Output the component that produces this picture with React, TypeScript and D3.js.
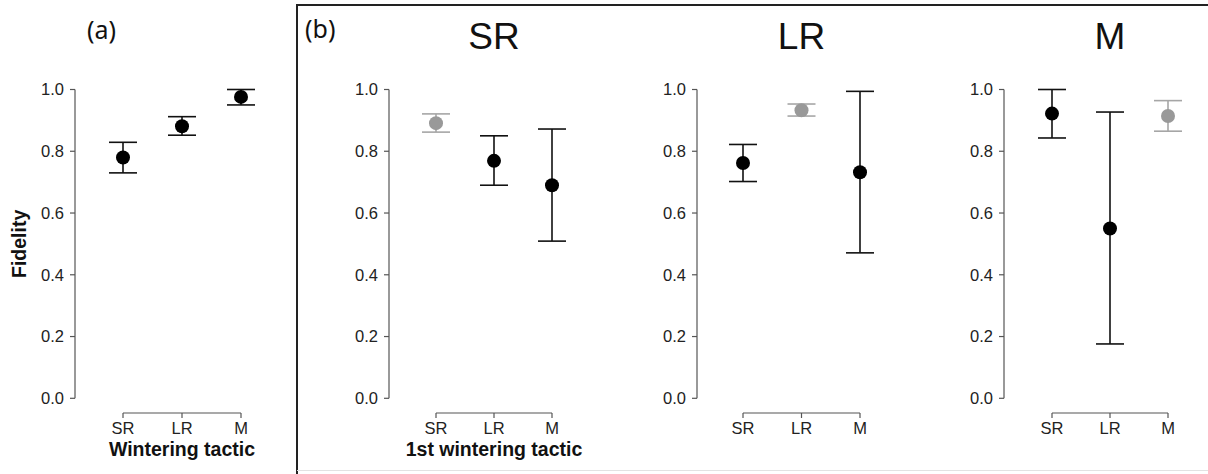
import React from "react";
import * as d3 from "d3";

const tactics = ["SR", "LR", "M"];

// Panel (a): overall fidelity by wintering tactic
const aMean = [0.78, 0.881, 0.976];
const aLower = [0.73, 0.852, 0.95];
const aUpper = [0.829, 0.912, 1.0];

// Panel (b): fidelity by 1st wintering tactic, for each current tactic
const bTitles = ["SR", "LR", "M"];
const srMean = [0.891, 0.769, 0.69];
const srLower = [0.862, 0.69, 0.509];
const srUpper = [0.921, 0.85, 0.872];
const lrMean = [0.762, 0.933, 0.732];
const lrLower = [0.702, 0.914, 0.471];
const lrUpper = [0.822, 0.953, 0.994];
const mMean = [0.922, 0.55, 0.914];
const mLower = [0.843, 0.176, 0.865];
const mUpper = [1.0, 0.927, 0.964];
// which category is the "same tactic" (drawn grey) in each panel b subplot
const bHighlight = ["SR", "LR", "M"];

const yTicks = [0, 0.2, 0.4, 0.6, 0.8, 1.0];

const FONT = "'Liberation Sans', Arial, sans-serif";
const W = 1208;
const H = 474;

const yScale = d3.scaleLinear().domain([0, 1]).range([398.3, 89.5]);

type PanelProps = {
  axisX: number;
  firstX: number;
  lastX: number;
  mean: number[];
  lower: number[];
  upper: number[];
  grey?: string | null;
  title?: string;
  xLabel?: string;
  yLabel?: string;
};

function Panel({ axisX, firstX, lastX, mean, lower, upper, grey, title, xLabel, yLabel }: PanelProps) {
  const x = d3.scalePoint<string>().domain(tactics).range([firstX, lastX]).padding(0);
  const axisColor = "#555";
  const xAxisY = 413;
  const cx = (firstX + lastX) / 2;
  return (
    <g>
      {/* y axis */}
      <line x1={axisX} x2={axisX} y1={yScale(0)} y2={yScale(1)} stroke={axisColor} strokeWidth={1.2} />
      {yTicks.map((t) => (
        <g key={t}>
          <line x1={axisX - 5} x2={axisX} y1={yScale(t)} y2={yScale(t)} stroke={axisColor} strokeWidth={1.2} />
          <text x={axisX - 11} y={yScale(t)} dy="0.36em" textAnchor="end" fontFamily={FONT} fontSize={16.5} fill="#222">
            {d3.format(".1f")(t)}
          </text>
        </g>
      ))}
      {/* x axis */}
      <line x1={firstX} x2={lastX} y1={xAxisY} y2={xAxisY} stroke={axisColor} strokeWidth={1.2} />
      {tactics.map((c) => (
        <g key={c}>
          <line x1={x(c)} x2={x(c)} y1={xAxisY} y2={xAxisY + 5} stroke={axisColor} strokeWidth={1.2} />
          <text x={x(c)} y={433.5} textAnchor="middle" fontFamily={FONT} fontSize={16.5} fill="#222">
            {c}
          </text>
        </g>
      ))}
      {xLabel && (
        <text x={cx} y={456} textAnchor="middle" fontFamily={FONT} fontSize={19.5} fontWeight="bold" fill="#111">
          {xLabel}
        </text>
      )}
      {yLabel && (
        <text
          transform={`translate(${26},${(yScale(0) + yScale(1)) / 2}) rotate(-90)`}
          textAnchor="middle"
          fontFamily={FONT}
          fontSize={19.5}
          fontWeight="bold"
          fill="#111"
        >
          {yLabel}
        </text>
      )}
      {title && (
        <text x={cx} y={49} textAnchor="middle" fontFamily={FONT} fontSize={37} fill="#111">
          {title}
        </text>
      )}
      {/* error bars and points */}
      {tactics.map((c, i) => {
        const isGrey = grey === c;
        const barColor = isGrey ? "#a6a6a6" : "#111";
        const dotColor = isGrey ? "#999" : "#000";
        const px = x(c) as number;
        const cap = 14;
        return (
          <g key={c}>
            <line x1={px} x2={px} y1={yScale(lower[i])} y2={yScale(upper[i])} stroke={barColor} strokeWidth={1.6} />
            <line x1={px - cap} x2={px + cap} y1={yScale(lower[i])} y2={yScale(lower[i])} stroke={barColor} strokeWidth={1.6} />
            <line x1={px - cap} x2={px + cap} y1={yScale(upper[i])} y2={yScale(upper[i])} stroke={barColor} strokeWidth={1.6} />
            <circle cx={px} cy={yScale(mean[i])} r={7} fill={dotColor} />
          </g>
        );
      })}
    </g>
  );
}

export default function App() {
  const bData = [
    { mean: srMean, lower: srLower, upper: srUpper },
    { mean: lrMean, lower: lrLower, upper: lrUpper },
    { mean: mMean, lower: mLower, upper: mUpper },
  ];
  const bLayout = [
    { axisX: 389, firstX: 436, lastX: 552 },
    { axisX: 697, firstX: 743, lastX: 860 },
    { axisX: 1004, firstX: 1052, lastX: 1168 },
  ];
  return (
    <svg width={W} height={H} style={{ position: "absolute", left: 0, top: 0, background: "#fff" }}>
      <rect x={0} y={0} width={W} height={H} fill="#fff" />
      {/* panel (a) */}
      <text x={87} y={39} fontFamily="'Noto Sans', 'Open Sans', sans-serif" fontSize={25} fill="#111">
        (a)
      </text>
      <Panel
        axisX={75}
        firstX={123}
        lastX={241}
        mean={aMean}
        lower={aLower}
        upper={aUpper}
        xLabel="Wintering tactic"
        yLabel="Fidelity"
      />
      {/* panel (b) box */}
      <line x1={297} x2={W + 2} y1={5} y2={5} stroke="#222" strokeWidth={2} />
      <line x1={297} x2={297} y1={4} y2={H} stroke="#222" strokeWidth={2} />
      <line x1={297} x2={W} y1={470.5} y2={470.5} stroke="#e2e2e2" strokeWidth={1} />
      <text x={305} y={38} fontFamily="'Noto Sans', 'Open Sans', sans-serif" fontSize={25} fill="#111">
        (b)
      </text>
      {bData.map((d, i) => (
        <Panel
          key={i}
          {...bLayout[i]}
          mean={d.mean}
          lower={d.lower}
          upper={d.upper}
          grey={bHighlight[i]}
          title={bTitles[i]}
          xLabel={i === 0 ? "1st wintering tactic" : undefined}
        />
      ))}
    </svg>
  );
}
